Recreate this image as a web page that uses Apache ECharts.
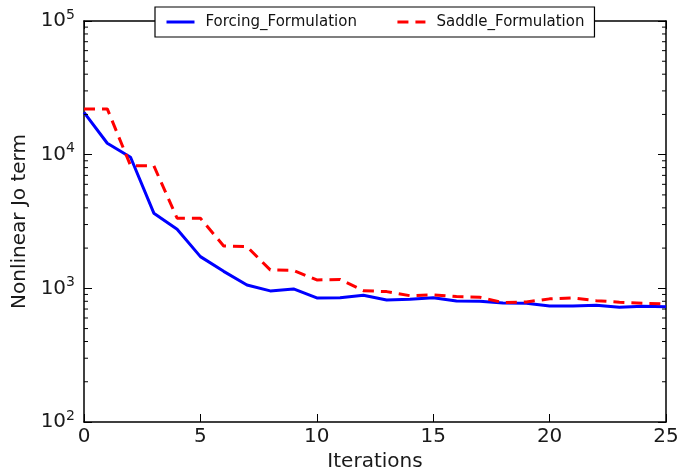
<!DOCTYPE html>
<html>
<head>
<meta charset="utf-8">
<script src="https://cdn.jsdelivr.net/npm/echarts@6/dist/echarts.min.js"></script>
<style>
html,body{margin:0;padding:0;background:#fff;}
#c{width:678px;height:468px;}
</style>
</head>
<body>
<div id="c"></div>
<script>
var iterations = [0,1,2,3,4,5,6,7,8,9,10,11,12,13,14,15,16,17,18,19,20,21,22,23,24,25];
var forcing = [20750,12170,9560,3650,2770,1727,1340,1060,957,990,848,850,888,819,828,851,805,800,778,774,738,738,748,722,735,729];
var saddle  = [22000,22000,8280,8250,3345,3345,2075,2050,1373,1360,1155,1165,961,945,881,893,867,858,782,791,834,848,809,787,774,764];
var seriesNames = ['Forcing_Formulation','Saddle_Formulation'];
var xTitle = 'Iterations';
var yTitle = 'Nonlinear Jo term';

var FONT = 'DejaVu Sans';
var chart = echarts.init(document.getElementById('c'), null, {renderer:'canvas'});

function pairs(ys){ return iterations.map(function(x,i){ return [x, ys[i]]; }); }

var axisLineStyle = {color:'#000', width:1.5};

chart.setOption({
  animation:false,
  backgroundColor:'#fff',
  grid:{left:84, right:12, top:21, bottom:46, containLabel:false, outerBoundsMode:'none'},
  legend:{
    left:155, top:7,
    padding:[7,10],
    itemWidth:28, itemHeight:16, itemGap:39,
    backgroundColor:'#fff',
    borderColor:'#000', borderWidth:1.2, borderRadius:0,
    itemStyle:{opacity:0},
    lineStyle:{width:3},
    textStyle:{fontFamily:FONT, fontSize:15, color:'#111', padding:[0,0,0,6], lineHeight:16},
    data:seriesNames
  },
  xAxis:[{
    type:'value', min:0, max:25, interval:5,
    axisLine:{show:true, onZero:false, lineStyle:axisLineStyle},
    axisTick:{show:true, inside:true, length:8, lineStyle:{color:'#000', width:1}},
    splitLine:{show:false},
    axisLabel:{fontFamily:FONT, fontSize:20, color:'#1a1a1a', margin:5},
    name:xTitle, nameLocation:'middle', nameGap:27,
    nameTextStyle:{fontFamily:FONT, fontSize:20, color:'#1a1a1a'}
  },{
    type:'value', min:0, max:25, interval:5, position:'top',
    axisLine:{show:true, onZero:false, lineStyle:axisLineStyle},
    axisTick:{show:true, inside:true, length:8, lineStyle:{color:'#000', width:1}},
    splitLine:{show:false},
    axisLabel:{show:false}
  }],
  yAxis:[{
    type:'log', logBase:10, min:100, max:100000,
    axisLine:{show:true, onZero:false, lineStyle:axisLineStyle},
    axisTick:{show:true, inside:true, length:8, lineStyle:{color:'#000', width:1}},
    splitLine:{show:false},
    axisLabel:{
      margin:9,
      formatter:function(v){ var e = Math.round(Math.log(v)/Math.LN10); return '{b|10}{s|' + e + '}'; },
      rich:{
        b:{fontFamily:FONT, fontSize:20, color:'#1a1a1a', lineHeight:20},
        s:{fontFamily:FONT, fontSize:14, color:'#1a1a1a', lineHeight:14, padding:[0,0,12,0]}
      }
    },
    name:yTitle, nameLocation:'middle', nameGap:52, nameRotate:90,
    nameTextStyle:{fontFamily:FONT, fontSize:20, color:'#1a1a1a'}
  },{
    type:'log', logBase:10, min:100, max:100000, position:'right',
    axisLine:{show:true, onZero:false, lineStyle:axisLineStyle},
    axisTick:{show:true, inside:true, length:8, lineStyle:{color:'#000', width:1}},
    splitLine:{show:false},
    axisLabel:{show:false}
  }],
  series:[{
    name:seriesNames[0], type:'line', data:pairs(forcing),
    xAxisIndex:0, yAxisIndex:0,
    symbol:'none', color:'#0000ff',
    lineStyle:{color:'#0000ff', width:3}
  },{
    name:seriesNames[1], type:'line', data:pairs(saddle),
    xAxisIndex:0, yAxisIndex:0,
    symbol:'none', color:'#ff0000',
    lineStyle:{color:'#ff0000', width:3, type:[11,7]}
  }]
});

// minor ticks for the log axis (2..9 of each decade), placed via the axis scale
var minor = [];
var xl = chart.convertToPixel({xAxisIndex:0}, 0);
var xr = chart.convertToPixel({xAxisIndex:0}, 25);
[100,1000,10000].forEach(function(d){
  for (var m=2; m<=9; m++){
    var py = chart.convertToPixel({yAxisIndex:0}, m*d);
    minor.push({type:'line', silent:true, z:5, shape:{x1:xl, y1:py, x2:xl+4, y2:py}, style:{stroke:'#000', lineWidth:1}});
    minor.push({type:'line', silent:true, z:5, shape:{x1:xr, y1:py, x2:xr-4, y2:py}, style:{stroke:'#000', lineWidth:1}});
  }
});
chart.setOption({graphic:minor});
</script>
</body>
</html>
